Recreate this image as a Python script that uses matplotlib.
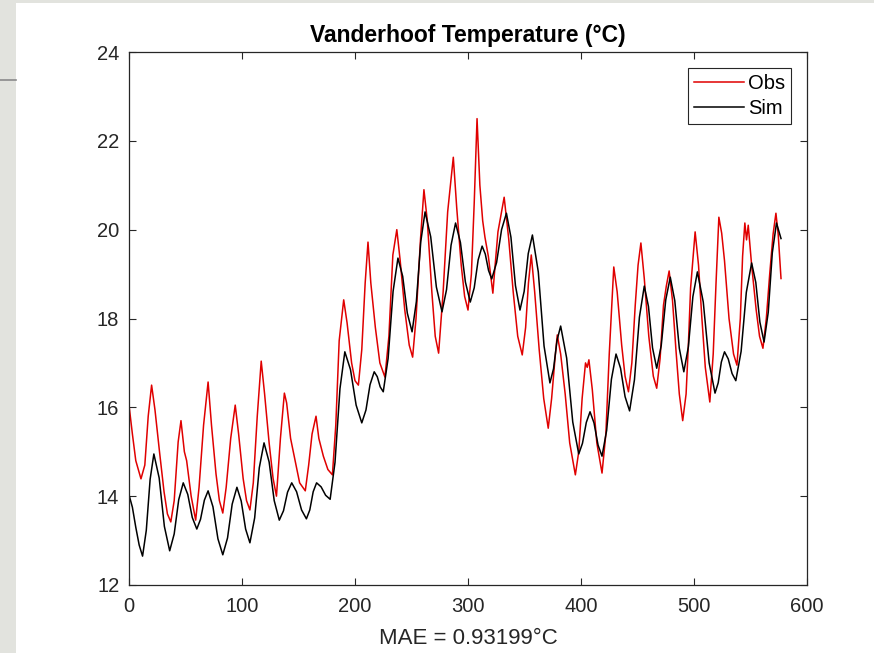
import numpy as np
import matplotlib
matplotlib.use("Agg")
import matplotlib.pyplot as plt
from matplotlib.patches import Rectangle
from matplotlib.lines import Line2D

plt.rcParams['font.family'] = ['Liberation Sans', 'DejaVu Sans']

obs_x = [0, 3, 6, 10.6, 14, 17, 20, 23, 27, 31, 34, 37, 40, 43.5, 46, 49, 51, 55, 59, 62,
         66, 70, 73, 77, 80, 83, 86, 90, 94, 97, 101, 104, 107, 110, 113.5, 117, 120, 124,
         127.5, 130.5, 134, 137.5, 139.5, 143, 147, 151, 156, 159, 162, 165.5, 168, 172, 176,
         180, 183, 186, 190, 193, 197, 200, 203, 206, 209, 211.5, 214, 218, 222, 226.5, 230,
         233.5, 237, 240, 244, 248, 251, 254, 258, 261, 264, 268, 271, 274, 278, 282, 287,
         290, 294, 297, 300, 303, 305.5, 308, 310.5, 313, 315, 318, 322, 324, 326.5, 332,
         336, 340, 344, 348, 351, 353.5, 356, 359, 363, 367, 371, 374, 377, 379, 382, 386,
         390, 395, 398, 401, 404, 405.5, 407, 410, 414, 418.6, 422, 425, 429, 432, 436, 439,
         442, 445, 448, 450.5, 453, 456, 460, 464, 467, 470, 473, 475.5, 478, 481, 484, 487,
         490, 493, 495, 497, 501, 504, 507, 510, 514, 517, 519.5, 522, 524.5, 527, 531, 535,
         538, 541, 543, 545, 546.5, 548, 551, 555, 558, 561, 564, 567, 570, 572.5, 574.5, 577]
obs_y = [16.05, 15.4, 14.8, 14.39, 14.7, 15.8, 16.5, 15.94, 15.0, 14.1, 13.6, 13.42, 13.9,
         15.22, 15.7, 15.0, 14.8, 14.0, 13.46, 14.2, 15.6, 16.57, 15.6, 14.5, 13.9, 13.62,
         14.2, 15.3, 16.05, 15.4, 14.4, 13.9, 13.69, 14.3, 15.8, 17.04, 16.3, 15.2, 14.4, 14.0,
         15.3, 16.32, 16.1, 15.3, 14.8, 14.3, 14.12, 14.7, 15.4, 15.8, 15.3, 14.9, 14.6, 14.48,
         15.6, 17.5, 18.42, 17.9, 17.0, 16.6, 16.5, 17.3, 18.8, 19.72, 18.8, 17.8, 17.0, 16.68,
         17.6, 19.43, 20.0, 19.3, 18.2, 17.4, 17.13, 18.0, 19.8, 20.9, 20.2, 18.6, 17.6, 17.22,
         18.6, 20.4, 21.63, 20.5, 19.2, 18.5, 18.19, 19.0, 20.6, 22.5, 21.0, 20.2, 19.83, 19.4,
         18.57, 19.2, 19.95, 20.73, 19.8, 18.6, 17.6, 17.18, 17.8, 18.8, 19.43, 18.6, 17.3,
         16.2, 15.53, 16.2, 17.1, 17.63, 17.2, 16.3, 15.2, 14.48, 15.0, 16.2, 17.0, 16.9,
         17.07, 16.4, 15.2, 14.52, 15.4, 17.2, 19.16, 18.6, 17.4, 16.7, 16.35, 17.0, 18.3,
         19.2, 19.7, 18.9, 17.6, 16.7, 16.43, 17.1, 18.3, 18.73, 19.07, 18.4, 17.3, 16.3, 15.7,
         16.3, 17.4, 18.69, 19.95, 19.2, 18.0, 16.9, 16.12, 17.2, 18.8, 20.28, 19.92, 19.3,
         18.0, 17.2, 16.95, 18.0, 19.4, 20.15, 19.77, 20.1, 19.2, 18.2, 17.6, 17.33, 18.0,
         19.0, 19.9, 20.37, 19.9, 18.9]

# simulated temperature
sim_x = [0, 3, 6, 9, 12, 15.3, 18.7, 22, 26.7, 31.3, 36, 40, 44, 48, 52, 56, 60, 63.3, 66.7,
         70, 74.3, 78.7, 83, 87.2, 91.3, 95.5, 99.3, 103.2, 107, 111.2, 115.3, 119.5, 124,
         128.5, 133, 136.7, 140.3, 144, 148.3, 152.7, 157, 160, 163, 166, 170, 174, 178,
         182.3, 186.7, 191, 196, 201, 206, 209.7, 213.3, 217, 219.7, 222.3, 225, 229.3, 233.7,
         238, 242.2, 246.3, 250.5, 254.3, 258.2, 262, 267, 272, 277, 281, 285, 289, 293.3,
         297.7, 302, 305.5, 309, 312.5, 315.3, 318.2, 321, 325.3, 329.7, 334, 338, 342, 346,
         349.7, 353.3, 357, 362.2, 367.3, 372.5, 375.7, 378.8, 382, 387.3, 392.7, 398, 401.3,
         404.7, 408, 411.5, 415.1, 418.6, 422.7, 426.9, 431, 435, 439, 443, 447.3, 451.7, 456,
         459.7, 463.3, 467, 471, 475, 479, 483, 487, 491, 495, 499, 503, 508.2, 513.4, 518.6,
         521.4, 524.2, 527, 530.3, 533.7, 537, 541.7, 546.3, 551, 554.7, 558.3, 562, 565.7,
         569.3, 573, 577]
sim_y = [14.03, 13.75, 13.3, 12.9, 12.65, 13.23, 14.38, 14.95, 14.41, 13.32, 12.77, 13.15,
         13.92, 14.3, 14.04, 13.52, 13.26, 13.48, 13.91, 14.12, 13.76, 13.04, 12.68, 13.06,
         13.82, 14.2, 13.89, 13.26, 12.95, 13.51, 14.64, 15.2, 14.77, 13.9, 13.46, 13.67, 14.09,
         14.3, 14.1, 13.69, 13.49, 13.69, 14.1, 14.3, 14.21, 14.02, 13.93, 14.76, 16.42, 17.25,
         16.85, 16.05, 15.65, 15.94, 16.51, 16.8, 16.69, 16.46, 16.35, 17.1, 18.61, 19.36,
         18.95, 18.12, 17.7, 18.38, 19.73, 20.4, 19.84, 18.71, 18.15, 18.65, 19.65, 20.15,
         19.71, 18.82, 18.37, 18.69, 19.32, 19.63, 19.45, 19.08, 18.89, 19.26, 20.0, 20.37,
         19.83, 18.74, 18.19, 18.61, 19.46, 19.88, 19.05, 17.38, 16.55, 16.87, 17.51, 17.83,
         17.11, 15.67, 14.95, 15.19, 15.66, 15.9, 15.65, 15.15, 14.9, 15.48, 16.63, 17.2, 16.88,
         16.24, 15.92, 16.62, 18.03, 18.73, 18.27, 17.34, 16.88, 17.39, 18.42, 18.93, 18.4,
         17.33, 16.8, 17.36, 18.49, 19.05, 18.37, 17.0, 16.32, 16.55, 17.02, 17.25, 17.09,
         16.76, 16.6, 17.26, 18.59, 19.25, 18.81, 17.92, 17.47, 18.14, 19.48, 20.15, 19.8]

x_ticks = [0, 100, 200, 300, 400, 500, 600]
y_ticks = [12, 14, 16, 18, 20, 22, 24]

fig = plt.figure(figsize=(8.74, 6.53), dpi=100)
fig.patch.set_facecolor('#e2e3de')
# white page area with grey strip on the left and top
fig.patches.append(Rectangle((16 / 874, 0), 1, 1 - 3 / 653, transform=fig.transFigure,
                             facecolor='white', edgecolor='none', zorder=-5))
fig.lines.append(Line2D([0, 16 / 874], [1 - 80 / 653, 1 - 80 / 653], transform=fig.transFigure,
                        color='#8a8a8a', linewidth=1.2, zorder=-4))

ax = fig.add_axes([129 / 874, 1 - 585 / 653, 678 / 874, 533 / 653])
ax.set_zorder(1)
ax.plot(obs_x, obs_y, color='#e00000', linewidth=1.1, label='Obs')
ax.plot(sim_x, sim_y, color='black', linewidth=1.1, label='Sim')

ax.set_xlim(0, 600)
ax.set_ylim(12, 24)
ax.set_xticks(x_ticks)
ax.set_yticks(y_ticks)
ax.tick_params(direction='in', length=5, width=0.8, top=True, right=True,
               labelsize=14.5, colors='#262626')
ax.tick_params(axis='x', pad=9)
ax.tick_params(axis='y', pad=7)
for s in ax.spines.values():
    s.set_color('#262626')
    s.set_linewidth(0.9)

ax.set_title('Vanderhoof Temperature (°C)', fontsize=16.5, fontweight='bold', pad=7)
ax.set_xlabel('MAE = 0.93199°C', fontsize=16, color='#262626', labelpad=8)

leg = ax.legend(loc='upper right', fontsize=14.5, fancybox=False, framealpha=1,
                edgecolor='#262626', borderpad=0.3, handlelength=2.45, handletextpad=0.2,
                labelspacing=0.3, borderaxespad=0.8)
leg.get_frame().set_linewidth(0.8)

plt.savefig('out.png', dpi=100)
